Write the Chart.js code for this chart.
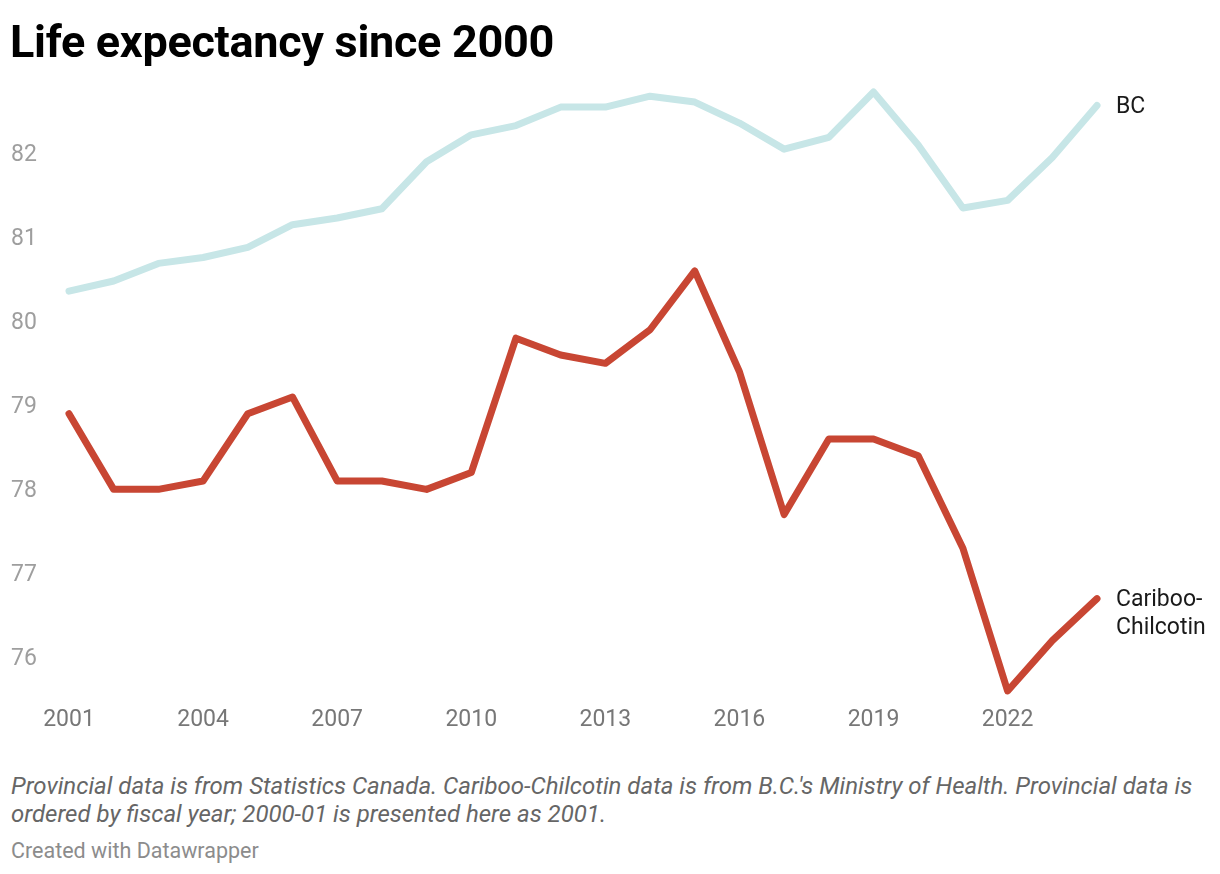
<!DOCTYPE html>
<html>
<head>
<meta charset="utf-8">
<script src="https://cdn.jsdelivr.net/npm/chart.js@4.4.1/dist/chart.umd.min.js"></script>
<style>
  html, body { margin: 0; padding: 0; background: #fff; }
  #wrap { position: relative; width: 1220px; height: 874px; font-family: Roboto, sans-serif; }
  #title { position: absolute; left: 10px; top: 15px; font-size: 45px; line-height: 53px; font-weight: 700; color: #000; letter-spacing: -0.3px; }
  #chartBox { position: absolute; left: 0; top: 0; width: 1220px; height: 740px; }
  #notes { position: absolute; left: 11px; top: 772px; font-size: 24px; font-style: italic; color: #666666; line-height: 28px; width: 1200px; }
  #credit { position: absolute; left: 11px; top: 838px; font-size: 21.5px; line-height: 26px; color: #8c8c8c; }
</style>
</head>
<body>
<div id="wrap">
  <div id="chartBox"><canvas id="lifeChart"></canvas></div>
  <div id="title">Life expectancy since 2000</div>
  <div id="notes">Provincial data is from Statistics Canada. Cariboo-Chilcotin data is from B.C.'s Ministry of Health. Provincial data is ordered by fiscal year; 2000-01 is presented here as 2001.</div>
  <div id="credit">Created with Datawrapper</div>
</div>
<script>
const years = ["2001", "2002", "2003", "2004", "2005", "2006", "2007", "2008", "2009", "2010", "2011", "2012",
               "2013", "2014", "2015", "2016", "2017", "2018", "2019", "2020", "2021", "2022", "2023", "2024"];
const bcValues = [80.36, 80.48, 80.69, 80.76, 80.88, 81.15, 81.23, 81.34, 81.9, 82.22, 82.33, 82.55,
                  82.55, 82.68, 82.61, 82.36, 82.05, 82.19, 82.73, 82.1, 81.35, 81.44, 81.95, 82.57];
const caribooValues = [78.9, 78.0, 78.0, 78.1, 78.9, 79.1, 78.1, 78.1, 78.0, 78.2, 79.8, 79.6,
                       79.5, 79.9, 80.6, 79.4, 77.7, 78.6, 78.6, 78.4, 77.3, 75.6, 76.2, 76.7];
const yTicks = [76, 77, 78, 79, 80, 81, 82];
const xTickEvery = 3;

// series names written at the end of each line
const endLabels = {
    id: "endLabels",
    afterDatasetsDraw(chart) {
        const ctx = chart.ctx;
        ctx.save();
        ctx.font = "23px Roboto, sans-serif";
        ctx.fillStyle = "#1a1a1a";
        ctx.textBaseline = "middle";
        ctx.textAlign = "left";
        chart.data.datasets.forEach((ds, i) => {
            const meta = chart.getDatasetMeta(i);
            const last = meta.data[meta.data.length - 1];
            ds.endLabel.forEach((t, j) => ctx.fillText(t, last.x + 19, last.y + 2 + j * 28));
        });
        ctx.restore();
    }
};

new Chart(document.getElementById("lifeChart"), {
    type: "line",
    data: {
        labels: years,
        datasets: [{
            label: "BC",
            endLabel: ["BC"],
            data: bcValues,
            borderColor: "#c7e6e7",
            borderWidth: 7,
            pointRadius: 0,
            borderJoinStyle: "round",
            borderCapStyle: "round",
            clip: false
        }, {
            label: "Cariboo-Chilcotin",
            endLabel: ["Cariboo-", "Chilcotin"],
            data: caribooValues,
            borderColor: "#c84633",
            borderWidth: 7,
            pointRadius: 0,
            borderJoinStyle: "round",
            borderCapStyle: "round",
            clip: false
        }]
    },
    options: {
        responsive: true,
        maintainAspectRatio: false,
        animation: false,
        layout: { padding: { left: 11, right: 123, top: 92, bottom: 0 } },
        plugins: { legend: { display: false }, tooltip: { enabled: false } },
        scales: {
            x: {
                offset: false,
                grid: { display: false, drawTicks: false },
                border: { display: false },
                ticks: {
                    autoSkip: false,
                    maxRotation: 0,
                    padding: 15,
                    color: "#777777",
                    font: { family: "Roboto", size: 23 },
                    callback: function (v, i) { return i % xTickEvery === 0 ? years[i] : ""; }
                },
                afterFit(scale) { scale.height = 49; }
            },
            y: {
                min: 75.6,
                max: 82.73,
                grid: { display: false, drawTicks: false },
                border: { display: false },
                afterBuildTicks(scale) { scale.ticks = yTicks.map(v => ({ value: v })); },
                ticks: {
                    crossAlign: "far",
                    padding: 0,
                    labelOffset: 2,
                    color: "#9e9e9e",
                    font: { family: "Roboto", size: 23 }
                },
                afterFit(scale) { scale.width = 58; }
            }
        }
    },
    plugins: [endLabels]
});
</script>
</body>
</html>
